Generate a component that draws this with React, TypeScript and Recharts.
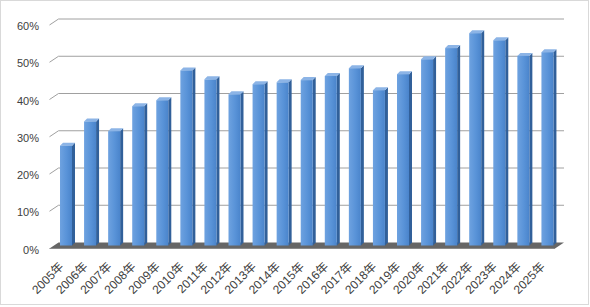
import React from 'react';
import { BarChart, Bar, XAxis, YAxis, CartesianGrid } from 'recharts';

const years = [
  '2005年', '2006年', '2007年', '2008年', '2009年', '2010年', '2011年',
  '2012年', '2013年', '2014年', '2015年', '2016年', '2017年', '2018年',
  '2019年', '2020年', '2021年', '2022年', '2023年', '2024年', '2025年',
];
const shares = [
  0.268, 0.333, 0.307, 0.374, 0.390, 0.470, 0.446,
  0.406, 0.433, 0.438, 0.444, 0.455, 0.476, 0.417,
  0.460, 0.500, 0.530, 0.570, 0.551, 0.509, 0.519,
];
const yTicks = [0, 0.1, 0.2, 0.3, 0.4, 0.5, 0.6];

const data = years.map((year, i) => ({ year, share: shares[i] }));

const W = 590;
const H = 307;
const DX = 9; // wall depth x
const DY = 6; // wall depth y
const BX = 4.5; // bar offset from front plane
const BY = 3;
const SD = 3; // bar own depth
const FONT = '"Liberation Sans", "Noto Sans CJK SC", sans-serif';

const GridLine = (props: any) => {
  const { x1, y1, x2 } = props;
  if (y1 > 240) {
    return (
      <g>
        <polygon
          points={`${x1},${y1} ${x2},${y1} ${x2 + DX},${y1 - DY} ${x1 + DX},${y1 - DY}`}
          fill="#666666"
        />
        <line x1={x1} y1={y1} x2={x2} y2={y1} stroke="#8a8a8a" strokeWidth={1} />
      </g>
    );
  }
  return (
    <g>
      <line x1={x1} y1={y1} x2={x1 + DX} y2={y1 - DY} stroke="#a0a0a0" strokeWidth={1} />
      <line x1={x1 + DX} y1={y1 - DY} x2={x2 + DX} y2={y1 - DY} stroke="#a0a0a0" strokeWidth={1} />
    </g>
  );
};

const Bar3D = (props: any) => {
  const { x, y, width, height } = props;
  if (height == null || height <= 0) return null;
  const fx = x + BX;
  const fy = y - BY;
  const w = width;
  const bottom = fy + height;
  return (
    <g>
      <polygon
        points={`${fx + w},${fy} ${fx + w + SD},${fy - SD} ${fx + w + SD},${bottom - SD} ${fx + w},${bottom}`}
        fill="#31609a"
      />
      <polygon
        points={`${fx},${fy} ${fx + SD},${fy - SD} ${fx + w + SD},${fy - SD} ${fx + w},${fy}`}
        fill="#8cb4e6"
      />
      <rect x={fx} y={fy} width={w} height={height} fill="url(#barFront)" />
    </g>
  );
};

const YTick = (props: any) => {
  const { y, payload } = props;
  return (
    <text
      x={39}
      y={y + 1}
      textAnchor="end"
      dominantBaseline="central"
      fontFamily={FONT}
      fontSize={11}
      fill="#404040"
    >
      {`${Math.round(payload.value * 100)}%`}
    </text>
  );
};

const XTick = (props: any) => {
  const { x, y, payload } = props;
  const ax = x;
  const ay = y + 8;
  return (
    <text
      x={ax}
      y={ay}
      textAnchor="end"
      dominantBaseline="central"
      transform={`rotate(-45, ${ax}, ${ay})`}
      fontFamily={FONT}
      fontSize={12}
      fill="#404040"
    >
      {payload.value}
    </text>
  );
};

export default function App() {
  return (
    <div style={{ position: 'absolute', left: 0, top: 0, width: W, height: H, background: '#fff' }}>
      <BarChart
        width={W}
        height={H}
        data={data}
        margin={{ top: 25, right: 35, left: 0, bottom: 0 }}
        barSize={12}
      >
        <defs>
          <linearGradient id="barFront" x1="0" y1="0" x2="1" y2="0">
            <stop offset="0%" stopColor="#6ea2e0" />
            <stop offset="55%" stopColor="#5993d8" />
            <stop offset="100%" stopColor="#4a84cb" />
          </linearGradient>
        </defs>
        <CartesianGrid horizontal={GridLine} vertical={false} />
        <XAxis
          dataKey="year"
          interval={0}
          height={58.5}
          axisLine={false}
          tickLine={false}
          tick={XTick}
        />
        <YAxis
          domain={[0, 0.6]}
          ticks={yTicks}
          width={49.5}
          axisLine={false}
          tickLine={false}
          tick={YTick}
        />
        <Bar dataKey="share" shape={Bar3D} isAnimationActive={false} />
      </BarChart>
      <div
        style={{
          position: 'absolute',
          left: 0,
          top: 0,
          width: 589,
          height: 305,
          border: '1px solid #d9d9d9',
          boxSizing: 'border-box',
          pointerEvents: 'none',
        }}
      />
    </div>
  );
}
